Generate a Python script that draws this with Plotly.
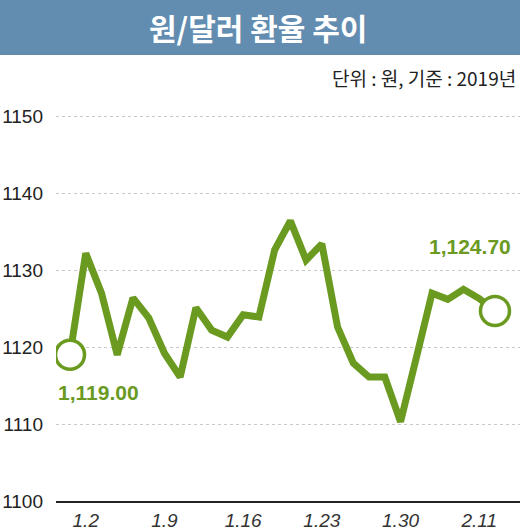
import plotly.graph_objects as go

# trading days shown on the chart (first point is the last close of 2018)
dates = ["12.28", "1.2", "1.3", "1.4", "1.7", "1.8", "1.9", "1.10", "1.11",
         "1.14", "1.15", "1.16", "1.17", "1.18", "1.21", "1.22", "1.23",
         "1.24", "1.25", "1.28", "1.29", "1.30", "1.31", "2.1", "2.7",
         "2.8", "2.11", "2.12"]
rates = [1119.0, 1132.2, 1127.0, 1119.0, 1126.4, 1123.8, 1119.2, 1116.1,
         1125.1, 1122.2, 1121.3, 1124.2, 1123.9, 1132.6, 1136.4, 1131.3,
         1133.4, 1122.6, 1117.9, 1116.1, 1116.1, 1110.3, 1118.6, 1127.0,
         1126.2, 1127.5, 1126.3, 1124.7]
tick_dates = ["1.2", "1.9", "1.16", "1.23", "1.30", "2.11"]
y_ticks = [1100, 1110, 1120, 1130, 1140, 1150]

GREEN = "#6a9a1f"
BAND = "#628cb0"
NUM = "Liberation Sans"
KR = "Noto Sans CJK KR"

fig = go.Figure()

fig.add_trace(go.Scatter(
    x=dates, y=rates, mode="lines",
    line=dict(color=GREEN, width=7),
    hoverinfo="skip",
))

# open circles on the first and last value
fig.add_trace(go.Scatter(
    x=[dates[0], dates[-1]], y=[rates[0], rates[-1]], mode="markers",
    marker=dict(size=29, color="white", line=dict(color=GREEN, width=3.5)),
    hoverinfo="skip",
))

# value labels (category axis -> use the point index)
fig.add_annotation(
    x=0, y=rates[0], text=f"<b>{rates[0]:,.2f}</b>", showarrow=False,
    xanchor="center", yanchor="middle", xshift=28, yshift=-38,
    font=dict(family=NUM, size=21, color=GREEN),
)
fig.add_annotation(
    x=len(dates) - 1, y=rates[-1], text=f"<b>{rates[-1]:,.2f}</b>",
    showarrow=False, xanchor="center", yanchor="middle",
    xshift=-25, yshift=64,
    font=dict(family=NUM, size=21, color=GREEN),
)

# title band
fig.add_shape(
    type="rect", xref="paper", yref="paper",
    x0=-0.13, x1=1.02, y0=1.1122, y1=1.27,
    fillcolor=BAND, line=dict(width=0), layer="above",
)
fig.add_annotation(
    xref="paper", yref="paper", x=0.435, y=1.182,
    xanchor="center", yanchor="middle",
    text="<b>원/달러 환율 추이</b>", showarrow=False,
    font=dict(family=KR, size=30, color="white"),
)
fig.add_annotation(
    xref="paper", yref="paper", x=1.0, y=1.0549,
    xanchor="right", yanchor="middle", xshift=-2,
    text="단위 : 원, 기준 : 2019년", showarrow=False,
    font=dict(family=KR, size=19, color="#222"),
)

fig.update_layout(
    width=520, height=531, autosize=False,
    margin=dict(l=56, r=0, t=100, b=30),
    paper_bgcolor="white", plot_bgcolor="white",
    showlegend=False,
    xaxis=dict(
        type="category", range=[-0.89, 28.59], automargin=False,
        tickmode="array", tickvals=tick_dates, ticktext=tick_dates,
        showgrid=False, zeroline=False,
        showline=True, linecolor="#222", linewidth=2,
        ticks="", ticklabelstandoff=1,
        tickfont=dict(family=NUM, size=19, color="#333", style="italic"),
    ),
    yaxis=dict(
        range=[1100, 1152.1], automargin=False,
        tickmode="array", tickvals=y_ticks,
        showgrid=True, gridcolor="#c8c8c8", gridwidth=1, griddash="dot",
        zeroline=False, showline=False,
        ticks="", ticklabelstandoff=12,
        tickfont=dict(family=NUM, size=19, color="#222"),
    ),
)

# drop the browser's default page margin so the chart sits at the corner
fig.write_html(
    "out.html",
    config={"displayModeBar": False},
    post_script="document.body.style.margin='0';",
)
